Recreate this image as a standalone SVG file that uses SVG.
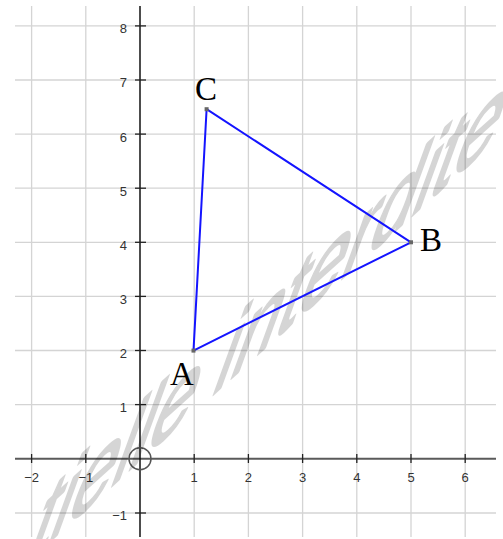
<svg xmlns="http://www.w3.org/2000/svg" width="503" height="539" viewBox="0 0 503 539">
  <style>
    .grid { stroke: #d4d4d4; stroke-width: 1.3; fill: none; }
    .tick { stroke: #222; stroke-width: 1.3; }
    .num { font-family: "Liberation Sans", Arial, sans-serif; font-size: 13px; fill: #333; }
    .numx { text-anchor: middle; }
    .numy { text-anchor: end; }
    .side { stroke: #1414ff; stroke-width: 2; fill: none; stroke-linecap: round; }
    .pt { fill: #666; }
    .lbl { font-family: "Liberation Serif", "Times New Roman", serif; font-size: 33px; fill: #000; }
    .wm { font-family: "Liberation Sans", Arial, sans-serif; font-size: 107px; fill: #000; stroke: #000; stroke-width: 3; stroke-linejoin: round; }
  </style>
  <rect width="503" height="539" fill="#fff"/>

  <g id="grid" class="grid">
    <line x1="31.6" y1="6" x2="31.6" y2="537"/>
    <line x1="85.8" y1="6" x2="85.8" y2="537"/>
    <line x1="194.2" y1="6" x2="194.2" y2="537"/>
    <line x1="248.4" y1="6" x2="248.4" y2="537"/>
    <line x1="302.6" y1="6" x2="302.6" y2="537"/>
    <line x1="356.8" y1="6" x2="356.8" y2="537"/>
    <line x1="411" y1="6" x2="411" y2="537"/>
    <line x1="465.2" y1="6" x2="465.2" y2="537"/>
    <line x1="15" y1="25.9" x2="496" y2="25.9"/>
    <line x1="15" y1="80" x2="496" y2="80"/>
    <line x1="15" y1="134.1" x2="496" y2="134.1"/>
    <line x1="15" y1="188.2" x2="496" y2="188.2"/>
    <line x1="15" y1="242.3" x2="496" y2="242.3"/>
    <line x1="15" y1="296.4" x2="496" y2="296.4"/>
    <line x1="15" y1="350.5" x2="496" y2="350.5"/>
    <line x1="15" y1="404.6" x2="496" y2="404.6"/>
    <line x1="15" y1="513" x2="496" y2="513"/>
  </g>

  <g id="axes">
    <line x1="15" y1="458.7" x2="496" y2="458.7" stroke="#5a5a5a" stroke-width="2"/>
    <line x1="140" y1="6" x2="140" y2="537" stroke="#000" stroke-width="1.4"/>
    <g class="tick">
      <line x1="31.6" y1="454" x2="31.6" y2="463"/>
      <line x1="85.8" y1="454" x2="85.8" y2="463"/>
      <line x1="194.2" y1="454" x2="194.2" y2="463"/>
      <line x1="248.4" y1="454" x2="248.4" y2="463"/>
      <line x1="302.6" y1="454" x2="302.6" y2="463"/>
      <line x1="356.8" y1="454" x2="356.8" y2="463"/>
      <line x1="411" y1="454" x2="411" y2="463"/>
      <line x1="465.2" y1="454" x2="465.2" y2="463"/>
      <line x1="135" y1="25.9" x2="146" y2="25.9"/>
      <line x1="135" y1="80" x2="146" y2="80"/>
      <line x1="135" y1="134.1" x2="146" y2="134.1"/>
      <line x1="135" y1="188.2" x2="146" y2="188.2"/>
      <line x1="135" y1="242.3" x2="146" y2="242.3"/>
      <line x1="135" y1="296.4" x2="146" y2="296.4"/>
      <line x1="135" y1="350.5" x2="146" y2="350.5"/>
      <line x1="135" y1="404.6" x2="146" y2="404.6"/>
      <line x1="135" y1="513" x2="146" y2="513"/>
    </g>
    <circle cx="140" cy="458.7" r="11" fill="none" stroke="#555" stroke-width="1.5"/>
    <g class="num numx">
      <text x="31.6" y="482">−2</text>
      <text x="85.8" y="482">−1</text>
      <text x="194.2" y="482">1</text>
      <text x="248.4" y="482">2</text>
      <text x="302.6" y="482">3</text>
      <text x="356.8" y="482">4</text>
      <text x="411" y="482">5</text>
      <text x="465.2" y="482">6</text>
    </g>
    <g class="num numy">
      <text x="127" y="33.3">8</text>
      <text x="127" y="87.4">7</text>
      <text x="127" y="141.5">6</text>
      <text x="127" y="195.6">5</text>
      <text x="127" y="249.7">4</text>
      <text x="127" y="303.8">3</text>
      <text x="127" y="357.9">2</text>
      <text x="127" y="412">1</text>
      <text x="127" y="520.4">−1</text>
    </g>
  </g>

  <g opacity="0.16">
    <text class="wm" transform="matrix(0.743,-0.669,-0.41,1.128,23,566)">tielle interdite</text>
  </g>

  <g id="connectors">
    <line class="side" x1="193.5" y1="350.6" x2="411" y2="242.3"/>
    <line class="side" x1="411" y1="242.3" x2="206.6" y2="109.2"/>
    <line class="side" x1="206.6" y1="109.2" x2="193.5" y2="350.6"/>
  </g>

  <g id="A">
    <rect class="pt" x="191.5" y="348.6" width="4" height="4"/>
    <text class="lbl" x="170" y="385">A</text>
  </g>
  <g id="B">
    <rect class="pt" x="409" y="240.3" width="4" height="4"/>
    <text class="lbl" x="420" y="251">B</text>
  </g>
  <g id="C">
    <rect class="pt" x="204.6" y="107.2" width="4" height="4"/>
    <text class="lbl" x="195" y="100">C</text>
  </g>
</svg>
